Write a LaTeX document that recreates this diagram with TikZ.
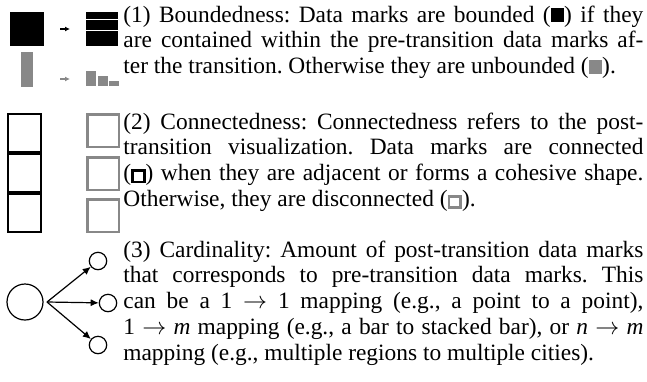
\documentclass[tikz,border=0pt]{standalone}
\usepackage{fontspec}
\setmainfont{Liberation Serif}
\usetikzlibrary{arrows.meta}
\definecolor{markgray}{RGB}{136,136,136}
\frenchspacing
\newcommand{\filledmark}[1]{\textcolor{#1}{\rule[-0.02em]{0.58em}{0.62em}}}
\newcommand{\outlinemark}[1]{{\color{#1}\setlength{\fboxsep}{0pt}\setlength{\fboxrule}{0.12em}\fbox{\rule{0pt}{0.38em}\rule{0.38em}{0pt}}}}
\begin{document}
\begin{tikzpicture}[x=0.5pt, y=-0.5pt,
		solidmark/.style={fill=#1, inner sep=0pt, outer sep=0pt},
		framemark/.style={draw=#1, inner sep=0pt},
		dot/.style={draw, circle, line width=0.6pt, inner sep=0pt},
		desc/.style={anchor=base west, inner sep=0pt, text width=260pt, align=justify,
			font=\fontsize{11.7pt}{12.9pt}\selectfont}]
		\useasboundingbox (0,0) rectangle (647,381);
		% boundedness
		\node[solidmark=black, minimum width=17pt, minimum height=17pt] at (27,29) (pre1) {};
		\node[solidmark=black, minimum width=16pt, minimum height=3.5pt] at (102,15.5) (post1a) {};
		\node[solidmark=black, minimum width=16pt, minimum height=5pt] at (102,25) (post1b) {};
		\node[solidmark=black, minimum width=16pt, minimum height=7.5pt] at (102,38.5) (post1c) {};
		\coordinate (a1s) at (60,29);
		\coordinate (a1e) at (70,29);
		\draw[line width=0.7pt, -{Latex[length=2.5pt, width=2.5pt]}] (a1s) -- (a1e);
		\node[solidmark=markgray, minimum width=6pt, minimum height=17.5pt] at (27,69.5) (pre2) {};
		\node[solidmark=markgray, minimum width=5pt, minimum height=7.5pt] at (91,78.5) (post2a) {};
		\node[solidmark=markgray, minimum width=5pt, minimum height=5pt] at (103,81) (post2b) {};
		\node[solidmark=markgray, minimum width=5pt, minimum height=2.5pt] at (114,83.5) (post2c) {};
		\coordinate (a2s) at (60,79);
		\coordinate (a2e) at (70,79);
		\draw[markgray, line width=0.7pt, -{Latex[length=2.5pt, width=2.5pt]}] (a2s) -- (a2e);
		\node[desc] at (123,22) (t1) {(1) Boundedness: Data marks are bounded (\filledmark{black}) if they\linebreak
			are contained within the pre-transition data marks af-\linebreak
			ter the transition. Otherwise they are unbounded (\filledmark{markgray}).};
		% connectedness
		\foreach \y/\n in {133/1, 172.5/2, 212.5/3}
			\node[framemark=black, line width=1pt, minimum width=16.5pt, minimum height=19pt] at (24.5,\y) (con\n) {};
		\foreach \y/\n in {130.5/1, 173.5/2, 215.5/3}
			\node[framemark=markgray, line width=1.25pt, minimum width=15.75pt, minimum height=16.25pt] at (103,\y) (dis\n) {};
		\node[desc] at (123,129) (t2) {(2) Connectedness: Connectedness refers to the post-\linebreak
			transition visualization. Data marks are connected\linebreak
			(\outlinemark{black}) when they are adjacent or forms a cohesive shape.\linebreak
			Otherwise, they are disconnected (\outlinemark{markgray}).};
		% cardinality
		\node[dot, minimum size=18pt] at (25,302) (src) {};
		\node[dot, minimum size=8.7pt] at (98,261) (dst1) {};
		\node[dot, minimum size=8.7pt] at (108,303) (dst2) {};
		\node[dot, minimum size=8.7pt] at (98,345) (dst3) {};
		\coordinate (hub) at (47,302);
		\foreach \n in {1,2,3}
			\draw[line width=0.6pt, -{Latex[length=4pt, width=3.6pt]}] (hub) -- (dst\n);
		\node[desc] at (123,257) (t3) {(3) Cardinality: Amount of post-transition data marks\linebreak
			that corresponds to pre-transition data marks. This\linebreak
			can be a 1 $\rightarrow$ 1 mapping (e.g., a point to a point),\linebreak
			1 $\rightarrow$ \textit{m} mapping (e.g., a bar to stacked bar), or \textit{n} $\rightarrow$ \textit{m}\linebreak
			mapping (e.g., multiple regions to multiple cities).};
		\end{tikzpicture}
\end{document}
